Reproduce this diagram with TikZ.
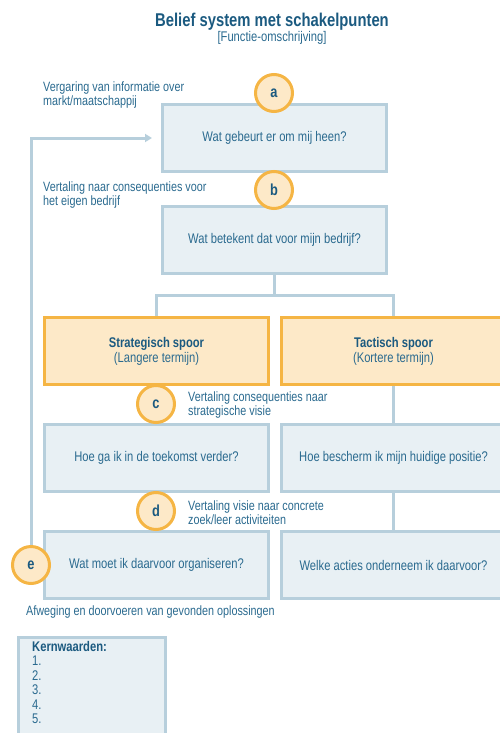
\documentclass[tikz,border=0pt]{standalone}
\usepackage{fontspec}
\setmainfont{Liberation Sans}[FakeStretch=0.8]
\usetikzlibrary{arrows.meta}
\tikzset{>={Triangle[width=8pt,length=7pt]}}
\definecolor{darkblue}{HTML}{1B5A80}
\definecolor{textblue}{HTML}{2A6A8F}
\definecolor{lineblue}{HTML}{B7CFDC}
\definecolor{boxfill}{HTML}{E8F0F4}
\definecolor{orange}{HTML}{F5B544}
\definecolor{cream}{HTML}{FDE9C8}
\newcommand{\DARKBLUE}[1]{\textcolor{darkblue}{#1}}
\tikzset{
  vraag/.style={draw=lineblue, fill=boxfill, line width=3pt, minimum width=224pt,
    minimum height=67pt, inner sep=0pt, align=center, text=textblue,
    font=\fontsize{14}{15}\selectfont},
  spoor/.style={vraag, draw=orange, fill=cream},
  punt/.style={circle, draw=orange, fill=cream, line width=3pt, minimum size=37pt,
    inner sep=0pt, text=darkblue, font=\bfseries\fontsize{16}{16}\selectfont},
  uitleg/.style={anchor=west, align=left, inner sep=0pt, text=textblue,
    font=\fontsize{13.5}{14}\selectfont},
  lijn/.style={draw=lineblue, line width=3pt},
}

\begin{document}
\begin{tikzpicture}[x=1pt,y=-1pt]
  \useasboundingbox (0,0) rectangle (500,733);

  \node[font=\bfseries\fontsize{18.5}{18.5}\selectfont, text=darkblue] (titel) at (272,22)
    {Belief system met schakelpunten};
  \node[font=\fontsize{14}{14}\selectfont, text=textblue] (sub) at (272,38)
    {[Functie-omschrijving]};

  %% vragen
  \node[vraag] (qa) at (274.5,138) {Wat gebeurt er om mij heen?};
  \node[vraag] (qb) at (274.5,240) {Wat betekent dat voor mijn bedrijf?};

  \node[spoor] (strat) at (156.5,351)
    {\DARKBLUE{\textbf{Strategisch spoor}}\\(Langere termijn)};
  \node[spoor] (tact) at (393.5,351)
    {\DARKBLUE{\textbf{Tactisch spoor}}\\(Kortere termijn)};

  \node[vraag] (toek) at (156.5,458) {Hoe ga ik in de toekomst verder?};
  \node[vraag] (posi) at (393.5,458) {Hoe bescherm ik mijn huidige positie?};
  \node[vraag] (org) at (156.5,565) {Wat moet ik daarvoor organiseren?};
  \node[vraag] (acties) at (393.5,565) {Welke acties onderneem ik daarvoor?};

  %% schakelpunten
  \node[punt] (ca) at (274,93) {a};
  \node[punt] (cb) at (274,190) {b};
  \node[punt] (cc) at (156,404) {c};
  \node[punt] (cd) at (156,511) {d};
  \node[punt] (ce) at (31,565) {e};

  %% toelichting
  \node[uitleg] (la) at (43,95) {Vergaring van informatie over\\markt/maatschappij};
  \node[uitleg] (lb) at (43,195) {Vertaling naar consequenties voor\\het eigen bedrijf};
  \node[uitleg] (lc) at (188,405) {Vertaling consequenties naar\\strategische visie};
  \node[uitleg] (ld) at (188,513) {Vertaling visie naar concrete\\zoek/leer activiteiten};
  \node[uitleg] (le) at (26,612) {Afweging en doorvoeren van gevonden oplossingen};

  %% verbindingen
  \coordinate (terug) at (152,138);
  \draw[lijn] (qb.south) -- ++(0,20) coordinate (split);
  \draw[lijn] (strat.north) |- (split) -| (tact.north);
  \draw[lijn] (tact.south) -- (posi.north);
  \draw[lijn] (posi.south) -- (acties.north);
  \draw[lijn, ->, color=lineblue] (ce.north) |- (terug); %% e -> a

  %% kernwaarden
  \draw[lijn, fill=boxfill] (18.5,637.5) rectangle (165.5,745);
  \node[anchor=north west, align=left, inner sep=0pt, text=textblue,
    font=\fontsize{14}{14.5}\selectfont] (kern) at (32,641)
    {\DARKBLUE{\textbf{Kernwaarden:}}\\1.\\2.\\3.\\4.\\5.};

\end{tikzpicture}
\end{document}
